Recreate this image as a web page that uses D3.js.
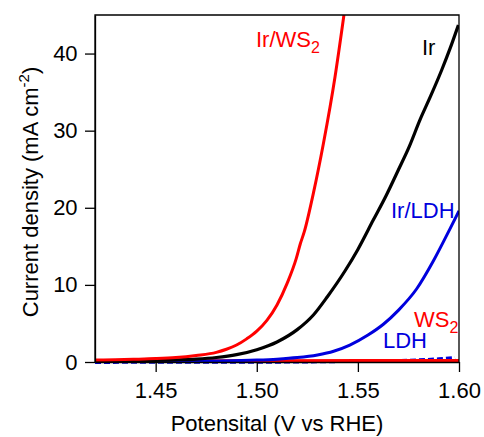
<!DOCTYPE html>
<html><head><meta charset="utf-8">
<script src="https://cdn.jsdelivr.net/npm/d3@7"></script>
<style>body{margin:0;background:#fff}text{font-family:"Liberation Sans",Arial,sans-serif}</style>
</head><body><svg id="c" width="484" height="437"></svg>
<script>
// potential (V vs RHE) and current density (mA cm^-2)
const irWS2 = [[1.42,0.25],[1.43,0.3],[1.44,0.36],[1.45,0.44],[1.46,0.58],[1.47,0.85],[1.48,1.25],[1.485,1.65],[1.49,2.2],[1.495,3.0],[1.50,4.0],[1.505,5.4],[1.51,7.4],[1.515,10.2],[1.5195,13.4],[1.5215,15.3],[1.5235,16.9],[1.528,21.9],[1.533,28.4],[1.5387,37],[1.5431,45]];
const ir = [[1.42,0.15],[1.44,0.2],[1.46,0.28],[1.47,0.38],[1.48,0.58],[1.49,0.95],[1.50,1.6],[1.51,2.6],[1.52,4.2],[1.528,6.1],[1.535,8.5],[1.5436,11.8],[1.55,14.6],[1.5576,18.4],[1.5640,21.6],[1.57,24.9],[1.5755,28.0],[1.5807,31.4],[1.586,34.5],[1.5915,37.9],[1.5955,40.6],[1.5997,43.7]];
const irLDH = [[1.42,0.05],[1.46,0.08],[1.48,0.13],[1.50,0.25],[1.51,0.37],[1.52,0.57],[1.53,0.92],[1.538,1.4],[1.546,2.2],[1.555,3.5],[1.5626,4.9],[1.57,6.7],[1.5791,9.5],[1.5873,13.1],[1.5956,17.3],[1.60,19.6]];
const ldh = [[1.42,-0.05],[1.50,-0.03],[1.54,0.05],[1.56,0.13],[1.58,0.28],[1.59,0.42],[1.598,0.6]];
const ws2 = [[1.42,0.15],[1.50,0.16],[1.60,0.2]];
const xTicks = [1.45,1.50,1.55,1.60];
const yTicks = [0,10,20,30,40];

const svg = d3.select("#c");
const L=95,R=459,T=15,B=362;
const x = d3.scaleLinear().domain([1.42,1.60]).range([L,R]);
const y = d3.scaleLinear().domain([0,45]).range([B,T]);

svg.append("clipPath").attr("id","clip").append("rect").attr("x",L).attr("y",T).attr("width",R-L).attr("height",B-T+4);
const line = d3.line().x(d=>x(d[0])).y(d=>y(d[1])).curve(d3.curveMonotoneX);
const g = svg.append("g").attr("clip-path","url(#clip)");
const series = [
  {d:ldh,c:"#0000dd",w:3,dash:"6,3"},
  {d:ws2,c:"#ff0000",w:3},
  {d:irLDH,c:"#0000dd",w:3},
  {d:ir,c:"#000000",w:3.2},
  {d:irWS2,c:"#ff0000",w:3}
];
series.forEach(s=>{
  g.append("path").datum(s.d).attr("d",line).attr("fill","none").attr("stroke",s.c)
   .attr("stroke-width",s.w).attr("stroke-dasharray",s.dash||null);
});

// frame
svg.append("path").attr("d",`M${L},${B}V${T}H${R}V${B}`).attr("fill","none").attr("stroke","#000").attr("stroke-width",1.3);

const xa = svg.append("g").attr("transform",`translate(0,${B})`)
  .call(d3.axisBottom(x).tickValues(xTicks).tickFormat(d3.format(".2f")).tickSize(10).tickSizeOuter(0));
const ya = svg.append("g").attr("transform",`translate(${L},0)`)
  .call(d3.axisLeft(y).tickValues(yTicks).tickSize(10).tickSizeOuter(0));
[xa,ya].forEach(a=>{
  a.select(".domain").attr("stroke","#000").attr("stroke-width",1.3);
  a.selectAll(".tick line").attr("stroke","#000").attr("stroke-width",1.3);
  a.selectAll("text").attr("font-size",22).attr("fill","#000").attr("font-family","Liberation Sans, Arial, sans-serif");
});
xa.selectAll("text").attr("dy","1.05em");
ya.selectAll("text").attr("dx","-0.2em");

svg.append("text").attr("x",(L+R)/2).attr("y",431).attr("text-anchor","middle").attr("font-size",22).text("Potensital (V vs RHE)");
const yt = svg.append("text").attr("transform","translate(38,192) rotate(-90)").attr("text-anchor","middle").attr("font-size",22);
yt.append("tspan").text("Current density (mA cm");
yt.append("tspan").attr("font-size",15).attr("dy",-9).text("-2");
yt.append("tspan").attr("dy",9).text(")");

function lab(t,sub,xx,yy,c){
  const e = svg.append("text").attr("x",xx).attr("y",yy).attr("fill",c).attr("font-size",22);
  e.append("tspan").text(t);
  if(sub){e.append("tspan").attr("font-size",16).attr("dy",6).text(sub);}
}
lab("Ir/WS","2",256,47,"#ff0000");
lab("Ir",null,422,55,"#000");
lab("Ir/LDH",null,391,218,"#0000dd");
lab("WS","2",414,327,"#ff0000");
lab("LDH",null,383,348,"#0000dd");
</script></body></html>
